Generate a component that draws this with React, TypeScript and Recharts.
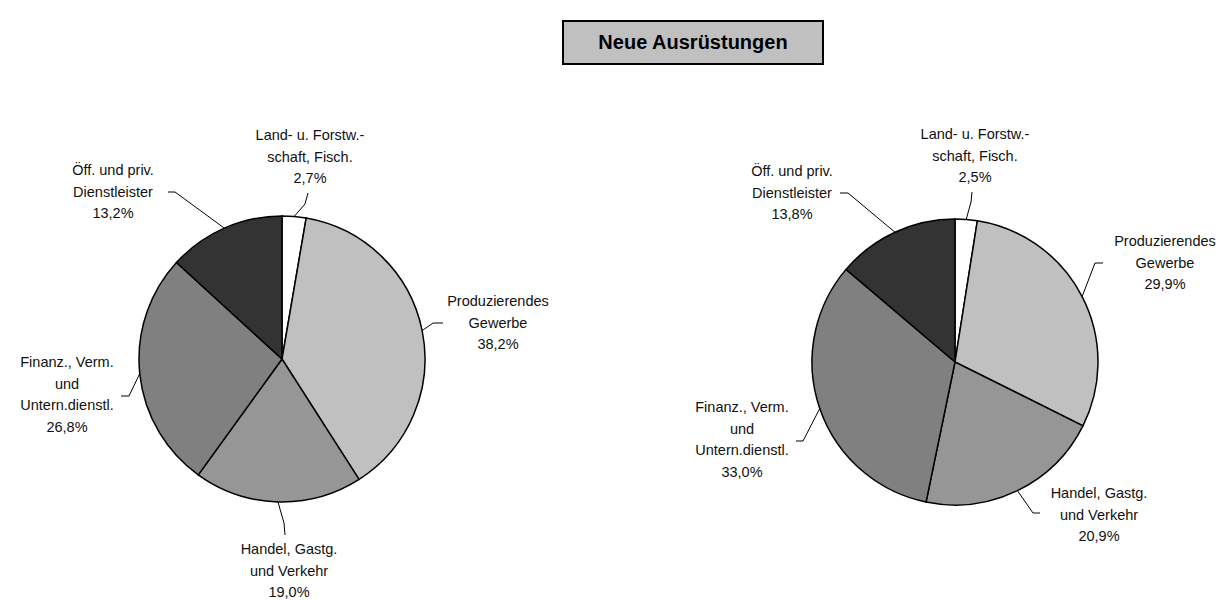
import { PieChart, Pie, Cell } from "recharts";

const categories = [
  "Land- u. Forstw.-\nschaft, Fisch.",
  "Produzierendes\nGewerbe",
  "Handel, Gastg.\nund Verkehr",
  "Finanz., Verm.\nund\nUntern.dienstl.",
  "Öff. und priv.\nDienstleister",
];
const leftValues = [2.7, 38.2, 19.0, 26.8, 13.2];
const rightValues = [2.5, 29.9, 20.9, 33.0, 13.8];

const COLORS = ["#ffffff", "#c0c0c0", "#969696", "#808080", "#333333"];
const FONT = "'Liberation Sans', Arial, sans-serif";
const LINE_H = 21.5;
const RADIUS = 143;

type Pt = [number, number];
type LabelPos = { tx: number; ty: number; leader: Pt[] };

// label placement relative to the pie centre (text x/first line y, leader bend points)
const LEFT_LAYOUT: LabelPos[] = [
  { tx: 28, ty: -224, leader: [[23, -155], [26, -166]] },
  { tx: 216, ty: -58, leader: [[151, -36], [161, -36]] },
  { tx: 7, ty: 190, leader: [[2, 164], [3, 176]] },
  { tx: -215, ty: 3, leader: [[-153, 37], [-161, 37]] },
  { tx: -169, ty: -189, leader: [[-107, -167], [-114, -167]] },
];
const RIGHT_LAYOUT: LabelPos[] = [
  { tx: 20, ty: -228, leader: [[16, -160], [17, -170]] },
  { tx: 210, ty: -121, leader: [[140, -99], [148, -99]] },
  { tx: 144, ty: 131, leader: [[78, 151], [85, 151]] },
  { tx: -213, ty: 45, leader: [[-152, 79], [-159, 79]] },
  { tx: -163, ty: -191, leader: [[-107, -169], [-115, -169]] },
];

const fmt = (v: number) => v.toFixed(1).replace(".", ",") + "%";

const makeData = (values: number[]) =>
  categories.map((name, i) => ({ name, value: values[i] }));

function makeLabel(layout: LabelPos[]) {
  return (props: any) => {
    const { cx, cy, midAngle, outerRadius, index, payload } = props;
    const pos = layout[index];
    const rad = (-midAngle * Math.PI) / 180;
    const ex = cx + outerRadius * Math.cos(rad);
    const ey = cy + outerRadius * Math.sin(rad);
    const pts = [[ex, ey], ...pos.leader.map(([x, y]) => [cx + x, cy + y])]
      .map((p) => p.join(","))
      .join(" ");
    const lines = [...String(payload.name).split("\n"), fmt(payload.value)];
    return (
      <g key={`lbl-${index}`}>
        <polyline points={pts} fill="none" stroke="#000" strokeWidth={1} />
        <text
          x={cx + pos.tx}
          y={cy + pos.ty}
          textAnchor="middle"
          fontFamily={FONT}
          fontSize={14.5}
          fill="#111"
        >
          {lines.map((l, i) => (
            <tspan key={i} x={cx + pos.tx} y={cy + pos.ty + i * LINE_H} dominantBaseline="central">
              {l}
            </tspan>
          ))}
        </text>
      </g>
    );
  };
}

export default function App() {
  const leftData = makeData(leftValues);
  const rightData = makeData(rightValues);
  return (
    <div style={{ position: "absolute", left: 0, top: 0, width: 1225, height: 600, background: "#fff" }}>
      <div
        style={{
          position: "absolute",
          left: 562,
          top: 20,
          width: 262,
          height: 45,
          boxSizing: "border-box",
          border: "2px solid #000",
          background: "#c0c0c0",
          fontFamily: FONT,
          fontWeight: "bold",
          fontSize: 20,
          display: "flex",
          alignItems: "center",
          justifyContent: "center",
        }}
      >
        Neue Ausrüstungen
      </div>
      <PieChart width={1225} height={600} style={{ position: "absolute", left: 0, top: 0 }}>
        <Pie
          data={leftData}
          dataKey="value"
          nameKey="name"
          cx={277}
          cy={354}
          outerRadius={RADIUS}
          startAngle={90}
          endAngle={-270}
          stroke="#000"
          strokeWidth={1.5}
          labelLine={false}
          label={makeLabel(LEFT_LAYOUT)}
          isAnimationActive={false}
        >
          {leftData.map((d, i) => (
            <Cell key={d.name} fill={COLORS[i]} />
          ))}
        </Pie>
        <Pie
          data={rightData}
          dataKey="value"
          nameKey="name"
          cx={950}
          cy={357}
          outerRadius={RADIUS}
          startAngle={90}
          endAngle={-270}
          stroke="#000"
          strokeWidth={1.5}
          labelLine={false}
          label={makeLabel(RIGHT_LAYOUT)}
          isAnimationActive={false}
        >
          {rightData.map((d, i) => (
            <Cell key={d.name} fill={COLORS[i]} />
          ))}
        </Pie>
      </PieChart>
    </div>
  );
}
